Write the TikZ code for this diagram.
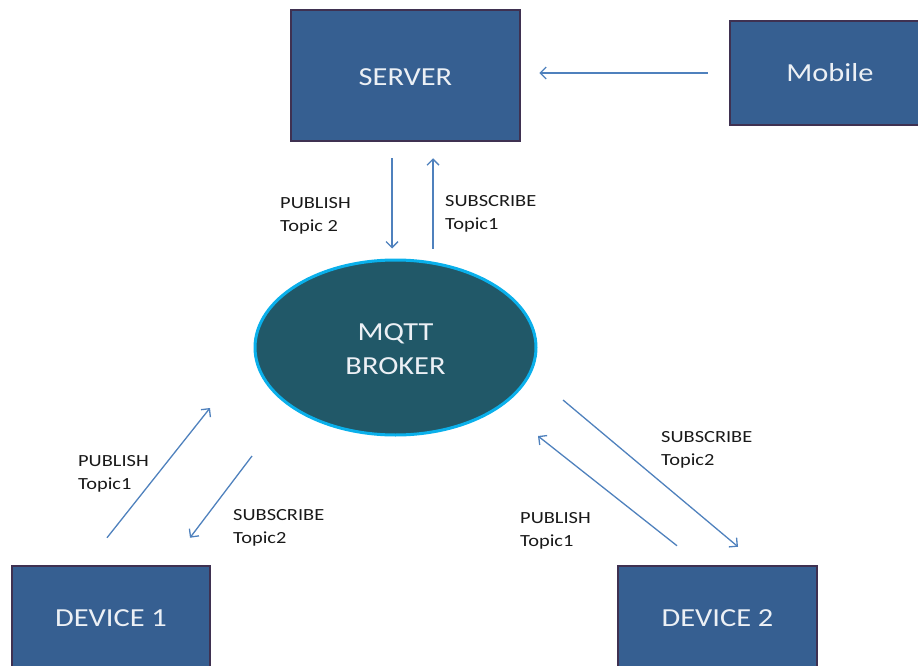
\documentclass[tikz,border=0pt]{standalone}
\usepackage{fontspec}
\setmainfont{Carlito}
\newfontfamily\boxfont{Carlito}[FakeStretch=1.17]
\newfontfamily\labelfont{Carlito}[FakeStretch=1.2]
\usetikzlibrary{arrows.meta,shapes.geometric}

\definecolor{boxfill}{RGB}{54,95,145}
\definecolor{boxedge}{RGB}{63,49,81}
\definecolor{brokerfill}{RGB}{33,88,104}
\definecolor{brokeredge}{RGB}{10,176,235}
\definecolor{flowblue}{RGB}{79,129,189}
\definecolor{boxtext}{RGB}{236,240,245}
\definecolor{labeltext}{RGB}{25,25,25}

\tikzset{
  unitbox/.style={draw=boxedge, line width=2.5pt, fill=boxfill, rectangle, inner sep=0pt},
  broker/.style={ellipse, draw=brokeredge, line width=3pt, fill=brokerfill,
    minimum width=281pt, minimum height=175pt, inner sep=0pt},
  boxword/.style={anchor=base, inner sep=0pt, text=boxtext,
    font=\boxfont\fontsize{26}{34}\selectfont},
  flow/.style={draw=flowblue, line width=1.3pt,
    -{Straight Barb[length=6pt,width=12pt]}},
  msg/.style={anchor=west, align=left, inner sep=0pt, text=labeltext,
    font=\labelfont\fontsize{17}{23}\selectfont}
}

\begin{document}
\begin{tikzpicture}[x=1pt,y=-1pt]
  \useasboundingbox (0,0) rectangle (918,666);
  \clip (0,0) rectangle (918,666);

  % participants
  \node[unitbox, minimum width=229pt, minimum height=131pt] (server) at (405.5,75.5) {};
  \node[unitbox, minimum width=200pt, minimum height=104pt] (mobile) at (830,73) {};
  \node[broker] (broker) at (395.5,347.5) {};
  \node[unitbox, minimum width=198pt, minimum height=104pt] (dev1) at (111,618) {};
  \node[unitbox, minimum width=199pt, minimum height=104pt] (dev2) at (717.5,618) {};

  % names inside the shapes
  \node[boxword] (servertext) at (405.5,85.5) {SERVER};
  \node[boxword] (mobiletext) at (830,81.5) {Mobile};
  \node[boxword] (brokertexta) at (395.5,340.5) {MQTT};
  \node[boxword] (brokertextb) at (395.5,374.5) {BROKER};
  \node[boxword] (dev1text) at (111,626.5) {DEVICE 1};
  \node[boxword] (dev2text) at (717.5,626.5) {DEVICE 2};

  % mobile to server
  \draw[flow, shorten <=21pt, shorten >=18pt] (mobile.west) -- (mobile.west -| server.east);

  % server <-> broker
  \draw[flow] ([shift={(-13.5pt,-16pt)}]server.south) -- ([shift={(-3.5pt,10pt)}]broker.north);
  \draw[flow] ([shift={(37.5pt,10pt)}]broker.north) -- ([shift={(27.5pt,-16pt)}]server.south);

  % device 1 <-> broker
  \draw[flow] ([shift={(-4pt,27pt)}]dev1.north) -- ([shift={(-185.5pt,-60.5pt)}]broker.center);
  \draw[flow] ([shift={(-143.5pt,-108.5pt)}]broker.center) -- ([shift={(79pt,27pt)}]dev1.north);

  % device 2 <-> broker
  \draw[flow] ([shift={(-40.5pt,19pt)}]dev2.north) -- ([shift={(142.5pt,-88.5pt)}]broker.center);
  \draw[flow] ([shift={(167.5pt,-52.5pt)}]broker.center) -- ([shift={(20.5pt,18pt)}]dev2.north);

  % message labels
  \node[msg] (l1) at (280,216) {PUBLISH\\Topic 2};
  \node[msg] (l2) at (445,214) {SUBSCRIBE\\Topic1};
  \node[msg] (l3) at (78,474) {PUBLISH\\Topic1};
  \node[msg] (l4) at (233,528) {SUBSCRIBE\\Topic2};
  \node[msg] (l5) at (661,450) {SUBSCRIBE\\Topic2};
  \node[msg] (l6) at (520,531) {PUBLISH\\Topic1};
\end{tikzpicture}
\end{document}
